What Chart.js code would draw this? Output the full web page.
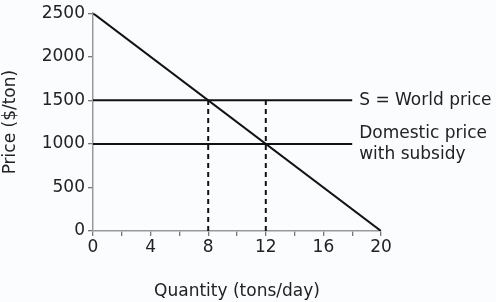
<!DOCTYPE html>
<html lang="en">
<head>
<meta charset="UTF-8">
<title>Subsidy chart</title>
<style>
  html, body { margin: 0; padding: 0; background: #fbfcfe; }
  .chart-container { width: 496px; height: 302px; position: relative; }
</style>
</head>
<body>
<div class="chart-container">
  <canvas id="subsidyChart"></canvas>
</div>
<script src="https://cdn.jsdelivr.net/npm/chart.js"></script>
<script>
  // demand curve end points
  const demandQty = [0, 20];
  const demandPrice = [2500, 0];
  // horizontal price lines
  const worldPrice = 1500;
  const subsidyPrice = 1000;
  const priceLineEnd = 18;
  // dashed guides
  const guideQty = [8, 12];
  const guideTop = [1500, 1500];
  const lineLabels = [['S = World price'], ['Domestic price', 'with subsidy']];

  const black = '#111';
  const font = { family: 'DejaVu Sans', size: 17 };
  const datasets = [
    { data: demandQty.map((q, i) => ({ x: q, y: demandPrice[i] })) },
    { data: [{ x: 0, y: worldPrice }, { x: priceLineEnd, y: worldPrice }] },
    { data: [{ x: 0, y: subsidyPrice }, { x: priceLineEnd, y: subsidyPrice }] },
    ...guideQty.map((q, i) => ({
      data: [{ x: q, y: 0 }, { x: q, y: guideTop[i] }],
      borderDash: [5, 4]
    }))
  ].map(d => Object.assign({
    borderColor: black, borderWidth: 2, pointRadius: 0, fill: false, tension: 0
  }, d));

  const labelPlugin = {
    id: 'lineLabels',
    afterDraw(chart) {
      const { ctx, scales: { x, y } } = chart;
      ctx.save();
      ctx.font = '17px "DejaVu Sans"';
      ctx.fillStyle = '#222';
      ctx.textBaseline = 'middle';
      ctx.textAlign = 'left';
      const px = x.getPixelForValue(priceLineEnd) + 7;
      ctx.fillText(lineLabels[0][0], px, y.getPixelForValue(worldPrice));
      const y2 = y.getPixelForValue(subsidyPrice);
      ctx.fillText(lineLabels[1][0], px, y2 - 10);
      ctx.fillText(lineLabels[1][1], px, y2 + 11);
      ctx.restore();
    }
  };

  const ctx = document.getElementById('subsidyChart').getContext('2d');
  new Chart(ctx, {
    type: 'line',
    data: { datasets },
    plugins: [labelPlugin],
    options: {
      responsive: true,
      maintainAspectRatio: false,
      animation: false,
      layout: { padding: { top: 9, right: 115, left: 0, bottom: 0 } },
      plugins: { legend: { display: false }, tooltip: { enabled: false } },
      scales: {
        x: {
          type: 'linear', min: 0, max: 20,
          grid: { display: true, drawOnChartArea: false, drawTicks: true, tickLength: 5, color: '#777', lineWidth: 1.3 },
          border: { color: '#999', width: 1.5 },
          ticks: {
            stepSize: 2, autoSkip: false, maxRotation: 0,
            color: '#222', font, padding: 1,
            callback: v => (v % 4 === 0 ? String(v) : '')
          },
          title: {
            display: true, text: 'Quantity (tons/day)', color: '#222',
            font, padding: { top: 18, bottom: 0 }
          },
          afterFit: s => { s.height = 71; }
        },
        y: {
          type: 'linear', min: 0, max: 2500,
          grid: { display: true, drawOnChartArea: false, drawTicks: true, tickLength: 5, color: '#777', lineWidth: 1.3 },
          border: { color: '#999', width: 1.5 },
          ticks: {
            stepSize: 500, color: '#222', padding: 3, font,
            callback: v => String(v)
          },
          title: {
            display: true, text: 'Price ($/ton)', color: '#222',
            font, padding: { top: 0, bottom: 4 }
          },
          afterFit: s => { s.width = 93; }
        }
      }
    }
  });
</script>
</body>
</html>
